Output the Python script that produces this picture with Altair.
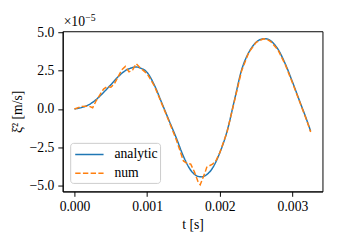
import altair as alt
import pandas as pd

# time [s]
t_analytic = [0.0, 0.0001, 0.0002, 0.0003, 0.0004, 0.0005, 0.0006, 0.0007, 0.0008, 0.00085,
              0.0009, 0.001, 0.0011, 0.0012, 0.0013, 0.0014, 0.0015, 0.0016, 0.0017, 0.00175,
              0.0018, 0.0019, 0.002, 0.0021, 0.0022, 0.0023, 0.0024, 0.0025, 0.0026, 0.00265,
              0.0027, 0.0028, 0.0029, 0.003, 0.0031, 0.0032, 0.00325]
# values in units of 1e-5 m/s
v_analytic = [0.0, 0.1, 0.28, 0.62, 1.08, 1.58, 2.1, 2.5, 2.7, 2.74,
              2.68, 2.38, 1.55, 0.41, -0.74, -1.88, -3.1, -4.0, -4.4, -4.43,
              -4.35, -3.85, -2.85, -1.45, 0.55, 2.55, 3.7, 4.35, 4.58, 4.57,
              4.45, 3.9, 2.95, 1.76, 0.49, -0.77, -1.45]

t_num = [0.0, 0.0001, 0.0002, 0.00025, 0.0003, 0.0004, 0.00045, 0.0005, 0.00055, 0.0006,
         0.00065, 0.0007, 0.00075, 0.0008, 0.00085, 0.0009, 0.001, 0.0011, 0.0012, 0.0013,
         0.0014, 0.0015, 0.00155, 0.0016, 0.00165, 0.0017, 0.00173, 0.0018, 0.00182, 0.0019,
         0.00195, 0.002, 0.0021, 0.0022, 0.0023, 0.0024, 0.0025, 0.0026, 0.00265, 0.0027,
         0.0028, 0.0029, 0.003, 0.0031, 0.0032, 0.00325]
v_num = [0.0, 0.17, 0.18, 0.08, 0.55, 1.3, 1.46, 1.42, 1.65, 2.1,
         2.55, 2.78, 2.42, 2.55, 2.95, 2.7, 2.3, 1.5, 0.35, -0.8,
         -2.0, -3.4, -3.55, -3.6, -4.1, -4.75, -4.95, -4.1, -3.8, -3.6,
         -3.35, -2.85, -1.5, 0.5, 2.5, 3.7, 4.35, 4.58, 4.55, 4.4,
         3.85, 2.9, 1.7, 0.45, -0.8, -1.5]

series = ["analytic", "num"]
x_ticks = [0.0, 0.001, 0.002, 0.003]
y_ticks = [-5.0, -2.5, 0.0, 2.5, 5.0]

df_a = pd.DataFrame({"t": t_analytic, "v": v_analytic, "s": "analytic"})
df_n = pd.DataFrame({"t": t_num, "v": v_num, "s": "num"})

FONT = "Liberation Serif, DejaVu Serif, serif"
FS = 14

x_enc = alt.X("t:Q", scale=alt.Scale(domain=[-0.0001625, 0.0034125], nice=False, zero=False),
              axis=alt.Axis(values=x_ticks, format=".3f", title="t [s]", grid=False,
                            tickSize=5, labelPadding=4, titlePadding=4))
y_enc = alt.Y("v:Q", scale=alt.Scale(domain=[-5.38, 5.07], nice=False, zero=False),
              axis=alt.Axis(values=y_ticks, title="ξ̇² [m/s]", grid=False,
                            labelExpr="replace(format(datum.value, '.1f'), '-', '−')",
                            tickSize=5, labelPadding=4, titlePadding=5))
color = alt.Color("s:N", scale=alt.Scale(domain=series, range=["#1f77b4", "#ff7f0e"]),
                  legend=alt.Legend(title=None, orient="none", legendX=7.7, legendY=114.3,
                                    symbolType="M-0.77,0L2.58,0", symbolSize=300,
                                    symbolStrokeWidth=1.5,
                                    labelFont=FONT, labelFontSize=FS, labelColor="black",
                                    fillColor="white", strokeColor="#cccccc", cornerRadius=3,
                                    padding=2.3, rowPadding=2.4, labelOffset=24))
dash = alt.StrokeDash("s:N", scale=alt.Scale(domain=series, range=[[1, 0], [5.5, 2.4]]),
                      legend=None)

la = alt.Chart(df_a).mark_line(strokeWidth=1.5, interpolate="monotone").encode(
    x=x_enc, y=y_enc, color=color, strokeDash=dash)
ln = alt.Chart(df_n).mark_line(strokeWidth=1.5).encode(
    x=x_enc, y=y_enc, color=color, strokeDash=dash)

off1 = alt.Chart(pd.DataFrame({"a": [0]})).mark_text(
    text="×10", font=FONT, fontSize=FS, align="left", baseline="alphabetic", color="black"
).encode(x=alt.value(1), y=alt.value(-5))
off2 = alt.Chart(pd.DataFrame({"a": [0]})).mark_text(
    text="−5", font=FONT, fontSize=10, align="left", baseline="alphabetic", color="black"
).encode(x=alt.value(23), y=alt.value(-11))

chart = alt.layer(la, ln, off1, off2).properties(
    width=266, height=164,
    autosize=alt.AutoSizeParams(type="none"),
    padding={"left": 56, "top": 21, "right": 20, "bottom": 50},
).configure_view(stroke="black", strokeWidth=1).configure_axis(
    domainColor="black", tickColor="black", labelColor="black", titleColor="black",
    labelFont=FONT, labelFontSize=FS, titleFont=FONT, titleFontSize=FS, titleFontWeight="normal",
    domainWidth=1, tickWidth=1
)

chart.save("out.html", embed_options={"renderer": "svg", "actions": False})
